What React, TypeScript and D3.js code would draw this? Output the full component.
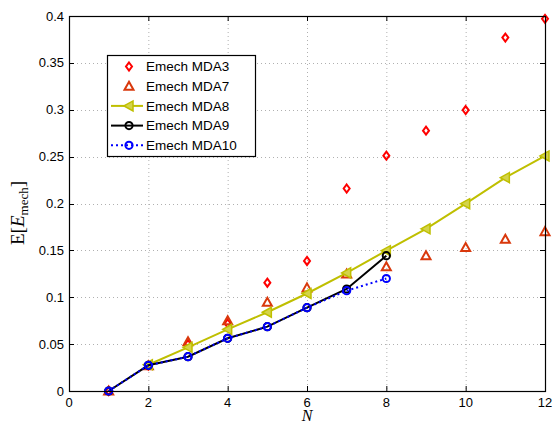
import React from "react";
import * as d3 from "d3";

const N_ALL = [1, 2, 3, 4, 5, 6, 7, 8, 9, 10, 11, 12];
const MDA3 = [0, 0.027, 0.05, 0.072, 0.1155, 0.1387, 0.216, 0.251, 0.2777, 0.2997, 0.377, 0.397];
const MDA7 = [0, 0.027, 0.0526, 0.075, 0.0946, 0.11, 0.1248, 0.1326, 0.1443, 0.153, 0.1618, 0.17];
const N_MDA8 = [2, 3, 4, 5, 6, 7, 8, 9, 10, 11, 12];
const MDA8 = [0.028, 0.0466, 0.0658, 0.084, 0.104, 0.126, 0.1497, 0.173, 0.1998, 0.2276, 0.2507];
const N_MDA9 = [1, 2, 3, 4, 5, 6, 7, 8];
const MDA9 = [0, 0.0274, 0.0366, 0.0562, 0.0686, 0.0889, 0.1088, 0.1443];
const N_MDA10 = [1, 2, 3, 4, 5, 6, 7, 8];
const MDA10 = [0, 0.0274, 0.0366, 0.0562, 0.0686, 0.0889, 0.107, 0.12];
const X_TICKS = [0, 2, 4, 6, 8, 10, 12];
const Y_TICKS = [0, 0.05, 0.1, 0.15, 0.2, 0.25, 0.3, 0.35, 0.4];
const LEGEND = ["Emech MDA3", "Emech MDA7", "Emech MDA8", "Emech MDA9", "Emech MDA10"];

const C3 = "#ff0000";
const C7 = "#d9380c";
const C8 = "#bfbf00";
const C9 = "#000000";
const C10 = "#0000ff";

const L = 69, R = 545, T = 16, B = 391;
const x = d3.scaleLinear().domain([0, 12]).range([L, R]);
const y = d3.scaleLinear().domain([0, 0.4]).range([B, T]);

const Diamond = ({ cx, cy }: { cx: number; cy: number }) => (
  <path d={`M${cx},${cy - 4} L${cx + 3},${cy} L${cx},${cy + 4} L${cx - 3},${cy} Z`} fill="none" stroke={C3} strokeWidth={2} />
);
const Tri = ({ cx, cy }: { cx: number; cy: number }) => (
  <path d={`M${cx},${cy - 4.5} L${cx + 4.5},${cy + 3.5} L${cx - 4.5},${cy + 3.5} Z`} fill="none" stroke={C7} strokeWidth={2} />
);
const LTri = ({ cx, cy }: { cx: number; cy: number }) => (
  <path d={`M${cx - 5},${cy} L${cx + 4},${cy - 5} L${cx + 4},${cy + 5} Z`} fill="#d4d44a" stroke={C8} strokeWidth={1.5} />
);
const Circ = ({ cx, cy, c }: { cx: number; cy: number; c: string }) => (
  <circle cx={cx} cy={cy} r={3.6} fill="none" stroke={c} strokeWidth={2} />
);

export default function App() {
  const line = d3.line<[number, number]>().x((d) => x(d[0])).y((d) => y(d[1]));
  const p8 = N_MDA8.map((n, i) => [n, MDA8[i]] as [number, number]);
  const p9 = N_MDA9.map((n, i) => [n, MDA9[i]] as [number, number]);
  const p10 = N_MDA10.map((n, i) => [n, MDA10[i]] as [number, number]);
  const font = "Liberation Sans, Arial, Helvetica, sans-serif";
  const serif = "Liberation Serif, Times New Roman, serif";
  const legY = (i: number) => 66.5 + i * 19.7;
  return (
    <svg width={554} height={424} style={{ position: "absolute", left: 0, top: 0, background: "#fff" }}>
      <rect x={0} y={0} width={554} height={424} fill="#fff" />
      {/* grid */}
      <g stroke="#b0b0b0" strokeWidth={1} strokeDasharray="1,3">
        {X_TICKS.slice(1, -1).map((t) => (
          <line key={"gx" + t} x1={x(t) + 0.5} x2={x(t) + 0.5} y1={T} y2={B} />
        ))}
        {Y_TICKS.slice(1, -1).map((t) => (
          <line key={"gy" + t} x1={L} x2={R} y1={Math.round(y(t)) + 0.5} y2={Math.round(y(t)) + 0.5} />
        ))}
      </g>
      {/* ticks */}
      <g stroke="#000" strokeWidth={1}>
        {X_TICKS.map((t) => (
          <g key={"tx" + t}>
            <line x1={x(t) + 0.5} x2={x(t) + 0.5} y1={B} y2={B - 5} />
            <line x1={x(t) + 0.5} x2={x(t) + 0.5} y1={T} y2={T + 5} />
          </g>
        ))}
        {Y_TICKS.map((t) => (
          <g key={"ty" + t}>
            <line x1={L} x2={L + 5} y1={Math.round(y(t)) + 0.5} y2={Math.round(y(t)) + 0.5} />
            <line x1={R} x2={R - 5} y1={Math.round(y(t)) + 0.5} y2={Math.round(y(t)) + 0.5} />
          </g>
        ))}
      </g>
      {/* data */}
      {N_ALL.map((n, i) => (
        <Diamond key={"d" + n} cx={x(n)} cy={y(MDA3[i])} />
      ))}
      {N_ALL.map((n, i) => (
        <Tri key={"t" + n} cx={x(n)} cy={y(MDA7[i])} />
      ))}
      <path d={line(p8) || ""} fill="none" stroke={C8} strokeWidth={2} />
      {p8.map((p) => (
        <LTri key={"l" + p[0]} cx={x(p[0])} cy={y(p[1])} />
      ))}
      <path d={line(p9) || ""} fill="none" stroke={C9} strokeWidth={2} />
      {p9.map((p) => (
        <Circ key={"c" + p[0]} cx={x(p[0])} cy={y(p[1])} c={C9} />
      ))}
      <path d={line(p10) || ""} fill="none" stroke={C10} strokeWidth={2} strokeDasharray="2,3" />
      {p10.map((p) => (
        <Circ key={"b" + p[0]} cx={x(p[0])} cy={y(p[1])} c={C10} />
      ))}
      {/* box */}
      <rect x={L + 0.5} y={T + 0.5} width={R - L} height={B - T} fill="none" stroke="#000" strokeWidth={1.2} />
      {/* tick labels */}
      <g fontFamily={font} fontSize={13} fill="#000">
        {X_TICKS.map((t) => (
          <text key={"lx" + t} x={x(t)} y={407} textAnchor="middle">{t}</text>
        ))}
        {Y_TICKS.map((t) => (
          <text key={"ly" + t} x={64} y={y(t) + 4.5} textAnchor="end">{t}</text>
        ))}
      </g>
      {/* axis labels */}
      <text x={x(6)} y={421} textAnchor="middle" fontFamily={serif} fontStyle="italic" fontSize={16}>N</text>
      <text transform="translate(24,213) rotate(-90)" textAnchor="middle" fontFamily={serif} fontSize={19}>
        E[<tspan fontStyle="italic">E</tspan><tspan fontSize={13} dy={4}>mech</tspan><tspan dy={-4}>]</tspan>
      </text>
      {/* legend */}
      <rect x={107.5} y={55.5} width={148} height={101} fill="#fff" stroke="#000" strokeWidth={1.2} />
      <g fontFamily={font} fontSize={13.5}>
        {LEGEND.map((s, i) => (
          <text key={s} x={146} y={legY(i) + 4.8}>{s}</text>
        ))}
      </g>
      <Diamond cx={129} cy={legY(0)} />
      <Tri cx={129} cy={legY(1)} />
      <line x1={111} x2={143} y1={legY(2)} y2={legY(2)} stroke={C8} strokeWidth={2} />
      <LTri cx={129} cy={legY(2)} />
      <line x1={111} x2={143} y1={legY(3)} y2={legY(3)} stroke={C9} strokeWidth={2} />
      <Circ cx={129} cy={legY(3)} c={C9} />
      <line x1={111} x2={143} y1={legY(4)} y2={legY(4)} stroke={C10} strokeWidth={2} strokeDasharray="2,3" />
      <Circ cx={129} cy={legY(4)} c={C10} />
    </svg>
  );
}
